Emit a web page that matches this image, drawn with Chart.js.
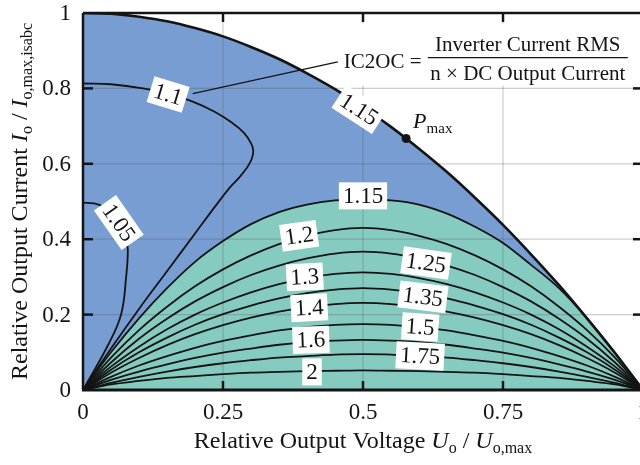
<!DOCTYPE html>
<html lang="en">
<head>
<meta charset="UTF-8">
<title>IC2OC over output voltage and current</title>
<script src="https://cdn.jsdelivr.net/npm/chart.js"></script>
<style>
  html, body { margin: 0; padding: 0; background: #fff; overflow: hidden; }
  #wrap { width: 650px; height: 465px; }
</style>
</head>
<body>
<div id="wrap"><canvas id="chart" width="650" height="465"></canvas></div>
<script>
// axis ticks
const xTicks = [0, 0.25, 0.5, 0.75, 1];
const xTickLabels = ['0', '0.25', '0.5', '0.75', '1'];
const yTicks = [0, 0.2, 0.4, 0.6, 0.8, 1];
const yTickLabels = ['0', '0.2', '0.4', '0.6', '0.8', '1'];

// relative output voltage samples, shared by the limit curve and the lower contours
const uRel = [0, 0.05, 0.1, 0.15, 0.2, 0.25, 0.3, 0.35, 0.4, 0.45, 0.5, 0.55, 0.6, 0.65, 0.7, 0.75, 0.8, 0.85, 0.9, 0.95, 1];
// outer limit of the operating area (labelled 1.15)
const limitCurve = [1, 0.998, 0.99, 0.978, 0.96, 0.938, 0.91, 0.878, 0.84, 0.798, 0.75, 0.698, 0.64, 0.578, 0.51, 0.438, 0.36, 0.278, 0.19, 0.098, 0];
// contour lines
const ic115 = [0, 0.1, 0.19, 0.27, 0.34, 0.395, 0.44, 0.472, 0.492, 0.503, 0.506, 0.503, 0.492, 0.468, 0.433, 0.39, 0.332, 0.27, 0.19, 0.098, 0];
const ic120 = [0, 0.086, 0.159, 0.221, 0.275, 0.32, 0.357, 0.387, 0.409, 0.424, 0.43, 0.424, 0.409, 0.387, 0.357, 0.32, 0.275, 0.221, 0.159, 0.086, 0];
const ic125 = [0, 0.073, 0.136, 0.189, 0.235, 0.273, 0.305, 0.33, 0.349, 0.362, 0.367, 0.362, 0.349, 0.33, 0.305, 0.273, 0.235, 0.189, 0.136, 0.073, 0];
const ic130 = [0, 0.062, 0.115, 0.161, 0.2, 0.232, 0.259, 0.281, 0.297, 0.308, 0.312, 0.308, 0.297, 0.281, 0.259, 0.232, 0.2, 0.161, 0.115, 0.062, 0];
const ic135 = [0, 0.054, 0.1, 0.139, 0.173, 0.201, 0.224, 0.243, 0.257, 0.266, 0.27, 0.266, 0.257, 0.243, 0.224, 0.201, 0.173, 0.139, 0.1, 0.054, 0];
const ic140 = [0, 0.046, 0.085, 0.119, 0.148, 0.172, 0.192, 0.208, 0.22, 0.228, 0.231, 0.228, 0.22, 0.208, 0.192, 0.172, 0.148, 0.119, 0.085, 0.046, 0];
const ic150 = [0, 0.035, 0.065, 0.09, 0.112, 0.13, 0.145, 0.158, 0.167, 0.173, 0.175, 0.173, 0.167, 0.158, 0.145, 0.13, 0.112, 0.09, 0.065, 0.035, 0];
const ic160 = [0, 0.027, 0.049, 0.068, 0.085, 0.099, 0.11, 0.12, 0.127, 0.131, 0.133, 0.131, 0.127, 0.12, 0.11, 0.099, 0.085, 0.068, 0.049, 0.027, 0];
const ic175 = [0, 0.019, 0.035, 0.049, 0.061, 0.071, 0.079, 0.086, 0.09, 0.094, 0.095, 0.094, 0.09, 0.086, 0.079, 0.071, 0.061, 0.049, 0.035, 0.019, 0];
const ic200 = [0, 0.015, 0.024, 0.032, 0.037, 0.042, 0.046, 0.048, 0.05, 0.051, 0.052, 0.051, 0.05, 0.048, 0.046, 0.042, 0.037, 0.032, 0.024, 0.015, 0];
const lowerContours = [ic115, ic120, ic125, ic130, ic135, ic140, ic150, ic160, ic175, ic200];

// the two contours in the upper left that turn back on themselves
const ic110U = [0, 0.05, 0.107, 0.152, 0.196, 0.235, 0.265, 0.287, 0.3, 0.304, 0.301, 0.292, 0.278, 0.262, 0.235, 0.2, 0.15, 0.1, 0.05, 0];
const ic110I = [0.813, 0.811, 0.8, 0.785, 0.765, 0.738, 0.71, 0.683, 0.655, 0.635, 0.612, 0.588, 0.562, 0.537, 0.485, 0.415, 0.315, 0.215, 0.11, 0];
const ic105U = [0, 0.02, 0.035, 0.05, 0.065, 0.076, 0.08, 0.077, 0.068, 0.045, 0];
const ic105I = [0.497, 0.495, 0.487, 0.47, 0.44, 0.41, 0.372, 0.3, 0.2, 0.12, 0];

// maximum power point
const pmaxU = [0.577];
const pmaxI = [0.667];

const SERIF = '"Liberation Serif", "DejaVu Serif", serif';
const BLUE = '#789dd2';
const GREEN = '#86cbc0';
const INK = '#141414';

// contour labels: text, position in data units, rotation in degrees
const contourLabels = [
  ['1.1', 0.152, 0.784, 17],
  ['1.05', 0.064, 0.444, 55],
  ['1.15', 0.493, 0.744, 33],
  ['1.15', 0.5, 0.515, 0],
  ['1.2', 0.386, 0.409, -8],
  ['1.25', 0.6125, 0.337, 8],
  ['1.3', 0.396, 0.3, -3],
  ['1.35', 0.607, 0.247, 7],
  ['1.4', 0.404, 0.218, -3],
  ['1.5', 0.602, 0.167, 4],
  ['1.6', 0.407, 0.133, -2],
  ['1.75', 0.602, 0.09, 3],
  ['2', 0.409, 0.048, 0]
];

function pts(xs, ys) {
  return xs.map((v, i) => ({ x: v, y: ys[i] }));
}

function drawRuns(ctx, runs, x, y, align) {
  let w = 0;
  runs.forEach(r => { ctx.font = r[1]; w += ctx.measureText(r[0]).width; });
  let cx = align === 'center' ? x - w / 2 : x;
  runs.forEach(r => {
    ctx.font = r[1];
    ctx.fillText(r[0], cx, y + (r[2] || 0));
    cx += ctx.measureText(r[0]).width;
  });
}

function seg(ctx, x1, y1, x2, y2) {
  ctx.beginPath();
  ctx.moveTo(x1, y1);
  ctx.lineTo(x2, y2);
  ctx.stroke();
}

const overlay = {
  id: 'overlay',
  afterDatasetDraw(chart, args) {
    // grid goes over the coloured areas but under the contour lines
    if (args.index !== 1) return;
    const { ctx, chartArea: a, scales: { x, y } } = chart;
    ctx.save();
    ctx.strokeStyle = 'rgba(90,90,90,0.3)';
    ctx.lineWidth = 1.2;
    xTicks.slice(1, -1).forEach(v => {
      const p = x.getPixelForValue(v);
      seg(ctx, p, a.top, p, a.bottom);
    });
    yTicks.slice(1, -1).forEach(v => {
      const p = y.getPixelForValue(v);
      seg(ctx, a.left, p, a.right, p);
    });
    ctx.restore();
  },
  afterDraw(chart) {
    const { ctx, chartArea: a, scales: { x, y } } = chart;
    ctx.save();
    ctx.fillStyle = INK;
    ctx.strokeStyle = INK;

    // leader from the 1.1 label to the formula
    ctx.lineWidth = 1.2;
    seg(ctx, x.getPixelForValue(0.196), y.getPixelForValue(0.786), x.getPixelForValue(0.457), y.getPixelForValue(0.871));

    // contour labels
    ctx.font = '23px ' + SERIF;
    ctx.textAlign = 'center';
    ctx.textBaseline = 'middle';
    contourLabels.forEach(([t, u, i, rot]) => {
      const w = ctx.measureText(t).width + 8;
      const h = 27;
      ctx.save();
      ctx.translate(x.getPixelForValue(u), y.getPixelForValue(i));
      ctx.rotate(rot * Math.PI / 180);
      ctx.fillStyle = '#fff';
      ctx.fillRect(-w / 2, -h / 2, w, h);
      ctx.fillStyle = INK;
      ctx.fillText(t, 0, 1);
      ctx.restore();
    });

    // formula box
    const fx = x.getPixelForValue(0.455);
    const fy = y.getPixelForValue(0.855);
    ctx.fillStyle = '#fff';
    ctx.fillRect(fx, fy - 44, a.right - fx, 62);
    ctx.fillStyle = INK;
    ctx.textAlign = 'left';
    ctx.textBaseline = 'alphabetic';
    ctx.font = '21px ' + SERIF;
    ctx.fillText('IC2OC =', fx + 6, fy);
    ctx.textAlign = 'center';
    ctx.fillText('Inverter Current RMS', fx + 190, fy - 17);
    ctx.fillText('n \u00d7 DC Output Current', fx + 190, fy + 12);
    ctx.lineWidth = 1.2;
    seg(ctx, fx + 90, fy - 10, fx + 290, fy - 10);

    // P_max annotation
    const px = x.getPixelForValue(pmaxU[0]);
    const py = y.getPixelForValue(pmaxI[0]);
    ctx.textAlign = 'left';
    drawRuns(ctx, [['P', 'italic 22px ' + SERIF], ['max', '15px ' + SERIF, 5]], px + 7, py - 11, 'left');

    // frame and inward ticks
    ctx.lineWidth = 2.5;
    seg(ctx, a.left, a.top, a.right, a.top);
    seg(ctx, a.left, a.top, a.left, a.bottom);
    seg(ctx, a.right, a.top, a.right, a.bottom);
    ctx.lineWidth = 3;
    seg(ctx, a.left - 1, a.bottom, a.right, a.bottom);
    ctx.lineWidth = 2.5;
    xTicks.slice(1, -1).forEach(v => {
      const p = x.getPixelForValue(v);
      seg(ctx, p, a.bottom, p, a.bottom - 9);
      seg(ctx, p, a.top, p, a.top + 9);
    });
    yTicks.slice(1, -1).forEach(v => {
      const p = y.getPixelForValue(v);
      seg(ctx, a.left, p, a.left + 10, p);
      seg(ctx, a.right, p, a.right - 10, p);
    });

    // tick labels
    ctx.font = '23px ' + SERIF;
    ctx.textAlign = 'center';
    ctx.textBaseline = 'alphabetic';
    xTicks.forEach((v, i) => ctx.fillText(xTickLabels[i], x.getPixelForValue(v), a.bottom + 29));
    ctx.textAlign = 'right';
    ctx.textBaseline = 'middle';
    yTicks.forEach((v, i) => ctx.fillText(yTickLabels[i], a.left - 12, y.getPixelForValue(v) + 1));

    // axis titles
    ctx.textAlign = 'left';
    ctx.textBaseline = 'alphabetic';
    const big = '24px ' + SERIF, it = 'italic 24px ' + SERIF, sub = '16px ' + SERIF;
    drawRuns(ctx, [['Relative Output Voltage ', big], ['U', it], ['o', sub, 5], [' / ', big], ['U', it], ['o,max', sub, 5]],
      (a.left + a.right) / 2, a.bottom + 58, 'center');
    ctx.translate(27, (a.top + a.bottom) / 2);
    ctx.rotate(-Math.PI / 2);
    drawRuns(ctx, [['Relative Output Current ', big], ['I', it], ['o', sub, 5], [' / ', big], ['I', it], ['o,max,isabc', sub, 5]],
      0, 0, 'center');
    ctx.restore();
  }
};

const lineStyle = { fill: false, borderColor: INK, borderWidth: 1.8, pointRadius: 0, cubicInterpolationMode: 'monotone', order: 5 };

const datasets = [
  { data: pts(uRel, limitCurve), fill: 'origin', backgroundColor: BLUE, borderWidth: 0, pointRadius: 0, cubicInterpolationMode: 'monotone', order: 20 },
  { data: pts(uRel, ic115), fill: 'origin', backgroundColor: GREEN, borderWidth: 0, pointRadius: 0, cubicInterpolationMode: 'monotone', order: 19 }
];
lowerContours.forEach(c => datasets.push(Object.assign({ data: pts(uRel, c) }, lineStyle)));
datasets.push(Object.assign({}, lineStyle, { data: pts(ic110U, ic110I), cubicInterpolationMode: 'default', tension: 0.4 }));
datasets.push(Object.assign({}, lineStyle, { data: pts(ic105U, ic105I), cubicInterpolationMode: 'default', tension: 0.4 }));
datasets.push(Object.assign({}, lineStyle, { data: pts(uRel, limitCurve), borderWidth: 2.6, order: 4 }));
datasets.push({ data: pts(pmaxU, pmaxI), showLine: false, pointRadius: 4.5, pointBackgroundColor: INK, pointBorderWidth: 0, order: 1 });

new Chart(document.getElementById('chart'), {
  type: 'line',
  data: { datasets },
  options: {
    responsive: false,
    devicePixelRatio: 1,
    animation: false,
    layout: { padding: { left: 83, top: 13, right: 7, bottom: 75 } },
    plugins: { legend: { display: false }, tooltip: { enabled: false } },
    scales: {
      x: { type: 'linear', min: 0, max: 1, display: false },
      y: { type: 'linear', min: 0, max: 1, display: false }
    }
  },
  plugins: [overlay]
});
</script>
</body>
</html>
